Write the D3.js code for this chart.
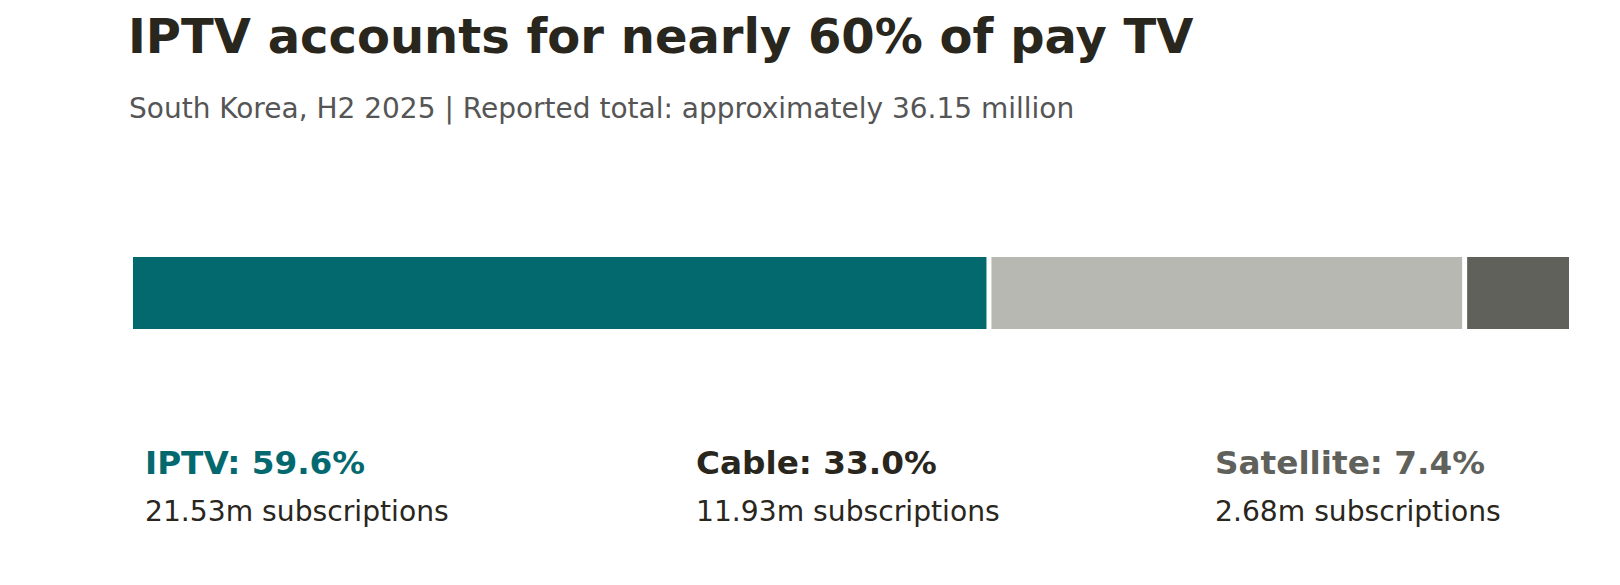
<!DOCTYPE html>
<html>
<head>
<meta charset="utf-8">
<script src="https://cdn.jsdelivr.net/npm/d3@7"></script>
<style>
  body { margin: 0; background: #ffffff; }
  svg { display: block; font-family: "DejaVu Sans", sans-serif; }
</style>
</head>
<body>
<div id="chart"></div>
<script>
// data
const categories = ["IPTV", "Cable", "Satellite"];
const subscriptions = [21.53, 11.93, 2.68]; // millions
const shares = [59.6, 33.0, 7.4];           // percent of total
const colors = ["#04696f", "#b7b8b2", "#60615b"];
const labelColors = ["#04696f", "#29261d", "#60615b"];

const width = 1620, height = 585;

const svg = d3.select("#chart")
    .append("svg")
    .attr("width", width)
    .attr("height", height);

// title + subtitle
svg.append("text")
    .attr("x", 128)
    .attr("y", 53)
    .style("font-size", "48px")
    .style("font-weight", "bold")
    .style("fill", "#29261d")
    .text("IPTV accounts for nearly 60% of pay TV");

svg.append("text")
    .attr("x", 129)
    .attr("y", 118)
    .style("font-size", "28px")
    .style("fill", "#555555")
    .text("South Korea, H2 2025 | Reported total: approximately 36.15 million");

// stacked bar
const total = d3.sum(subscriptions);
const x = d3.scaleLinear()
    .domain([0, total])
    .range([130.5, 1571.5]);

const starts = d3.cumsum([0].concat(subscriptions.slice(0, -1)));
const gap = 2.5; // white gap between segments

svg.selectAll(".segment")
    .data(categories)
    .enter()
    .append("rect")
    .attr("class", "segment")
    .attr("x", (d, i) => x(starts[i]) + gap)
    .attr("y", 257)
    .attr("width", (d, i) => x(starts[i] + subscriptions[i]) - x(starts[i]) - gap * 2)
    .attr("height", 72)
    .style("fill", (d, i) => colors[i]);

// labels under the bar
const labelX = [145, 696, 1215];

const labels = svg.selectAll(".label")
    .data(categories)
    .enter()
    .append("g")
    .attr("class", "label")
    .attr("transform", (d, i) => `translate(${labelX[i]},0)`);

labels.append("text")
    .attr("y", 474)
    .style("font-size", "32.7px")
    .style("font-weight", "bold")
    .style("fill", (d, i) => labelColors[i])
    .text((d, i) => `${d}: ${shares[i].toFixed(1)}%`);

labels.append("text")
    .attr("y", 520.5)
    .style("font-size", "28.2px")
    .style("fill", "#29261d")
    .text((d, i) => `${subscriptions[i].toFixed(2)}m subscriptions`);
</script>
</body>
</html>
